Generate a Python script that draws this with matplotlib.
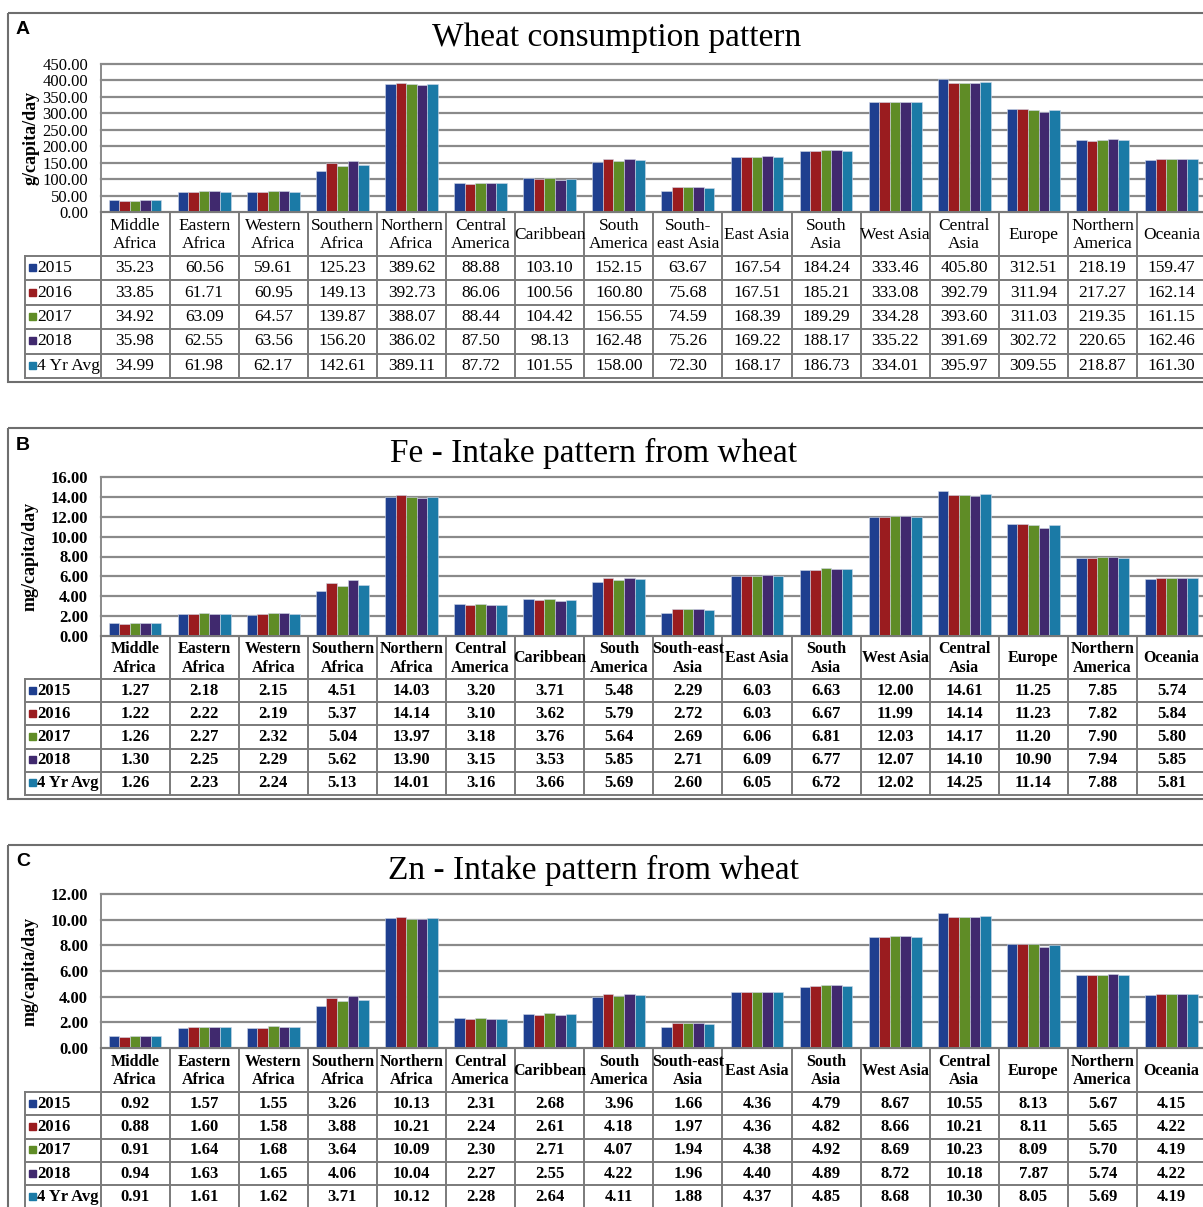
import numpy as np
import matplotlib
matplotlib.use("Agg")
from matplotlib import pyplot as plt
from matplotlib.patches import Rectangle

plt.rcParams['font.family'] = ['Liberation Serif', 'DejaVu Serif']

# regions, in table order
regions_a = ["Middle\nAfrica", "Eastern\nAfrica", "Western\nAfrica", "Southern\nAfrica",
             "Northern\nAfrica", "Central\nAmerica", "Caribbean", "South\nAmerica",
             "South-\neast Asia", "East Asia", "South\nAsia", "West Asia", "Central\nAsia",
             "Europe", "Northern\nAmerica", "Oceania"]
regions_bc = regions_a[:8] + ["South-east\nAsia"] + regions_a[9:]

series_names = ["2015", "2016", "2017", "2018", "4 Yr Avg"]
series_colors = ["#1f3f8f", "#9a1c1f", "#5f8c26", "#40296e", "#1b7aa6"]

# wheat consumption, g/capita/day
wheat_2015 = [35.23, 60.56, 59.61, 125.23, 389.62, 88.88, 103.10, 152.15, 63.67, 167.54, 184.24, 333.46, 405.80, 312.51, 218.19, 159.47]
wheat_2016 = [33.85, 61.71, 60.95, 149.13, 392.73, 86.06, 100.56, 160.80, 75.68, 167.51, 185.21, 333.08, 392.79, 311.94, 217.27, 162.14]
wheat_2017 = [34.92, 63.09, 64.57, 139.87, 388.07, 88.44, 104.42, 156.55, 74.59, 168.39, 189.29, 334.28, 393.60, 311.03, 219.35, 161.15]
wheat_2018 = [35.98, 62.55, 63.56, 156.20, 386.02, 87.50, 98.13, 162.48, 75.26, 169.22, 188.17, 335.22, 391.69, 302.72, 220.65, 162.46]
wheat_avg = [34.99, 61.98, 62.17, 142.61, 389.11, 87.72, 101.55, 158.00, 72.30, 168.17, 186.73, 334.01, 395.97, 309.55, 218.87, 161.30]

# Fe intake from wheat, mg/capita/day
fe_2015 = [1.27, 2.18, 2.15, 4.51, 14.03, 3.20, 3.71, 5.48, 2.29, 6.03, 6.63, 12.00, 14.61, 11.25, 7.85, 5.74]
fe_2016 = [1.22, 2.22, 2.19, 5.37, 14.14, 3.10, 3.62, 5.79, 2.72, 6.03, 6.67, 11.99, 14.14, 11.23, 7.82, 5.84]
fe_2017 = [1.26, 2.27, 2.32, 5.04, 13.97, 3.18, 3.76, 5.64, 2.69, 6.06, 6.81, 12.03, 14.17, 11.20, 7.90, 5.80]
fe_2018 = [1.30, 2.25, 2.29, 5.62, 13.90, 3.15, 3.53, 5.85, 2.71, 6.09, 6.77, 12.07, 14.10, 10.90, 7.94, 5.85]
fe_avg = [1.26, 2.23, 2.24, 5.13, 14.01, 3.16, 3.66, 5.69, 2.60, 6.05, 6.72, 12.02, 14.25, 11.14, 7.88, 5.81]

# Zn intake from wheat, mg/capita/day
zn_2015 = [0.92, 1.57, 1.55, 3.26, 10.13, 2.31, 2.68, 3.96, 1.66, 4.36, 4.79, 8.67, 10.55, 8.13, 5.67, 4.15]
zn_2016 = [0.88, 1.60, 1.58, 3.88, 10.21, 2.24, 2.61, 4.18, 1.97, 4.36, 4.82, 8.66, 10.21, 8.11, 5.65, 4.22]
zn_2017 = [0.91, 1.64, 1.68, 3.64, 10.09, 2.30, 2.71, 4.07, 1.94, 4.38, 4.92, 8.69, 10.23, 8.09, 5.70, 4.19]
zn_2018 = [0.94, 1.63, 1.65, 4.06, 10.04, 2.27, 2.55, 4.22, 1.96, 4.40, 4.89, 8.72, 10.18, 7.87, 5.74, 4.22]
zn_avg = [0.91, 1.61, 1.62, 3.71, 10.12, 2.28, 2.64, 4.11, 1.88, 4.37, 4.85, 8.68, 10.30, 8.05, 5.69, 4.19]

W, H = 1203, 1207
X0 = 100.5      # left edge of first region column (px)
CW = 69.1       # region column width (px)
LBL_X = 25      # left edge of the row-label column
GRID = "#8a8a8a"
LINE = "#7a7a7a"

fig = plt.figure(figsize=(W / 100, H / 100), dpi=100)
ov = fig.add_axes([0, 0, 1, 1])
ov.set_xlim(0, W)
ov.set_ylim(H, 0)
ov.axis("off")
ov.set_zorder(5)


def px_box(x0, y0, x1, y1):
    return [x0 / W, 1 - y1 / H, (x1 - x0) / W, (y1 - y0) / H]


def panel(letter, title, title_x, ylabel, labels, data, ymax, ystep,
          top, bottom, plot_top, plot_bot, head_bot, row_h, bold):
    weight = "bold" if bold else "normal"
    fs = 12 if bold else 12.5
    n = len(labels)
    x_end = X0 + n * CW

    # outer frame
    ov.add_patch(Rectangle((8, top), 1220, bottom - top, fill=False,
                           edgecolor="#6e6e6e", lw=1.5))
    ov.text(16, top + 17, letter, family="Liberation Sans", weight="bold",
            fontsize=14, ha="left", va="center")
    ov.text(title_x, top + 25, title, fontsize=24, ha="center", va="center")

    # bars
    ax = fig.add_axes(px_box(X0, plot_top, x_end, plot_bot))
    ax.set_xlim(-0.5, n - 0.5)
    ax.set_ylim(0, ymax)
    idx = np.arange(n)
    bw = 0.153
    for k, (vals, col) in enumerate(zip(data, series_colors)):
        ax.bar(idx + (k - 2) * bw, vals, width=bw, color=col,
               edgecolor="#d0d8e8", linewidth=0.4, zorder=3)
    ax.set_yticks(np.arange(0, ymax + ystep / 2, ystep))
    ax.yaxis.set_major_formatter(matplotlib.ticker.FormatStrFormatter("%.2f"))
    ax.yaxis.grid(True, color=GRID, lw=1.6, zorder=0)
    ax.set_xticks([])
    for s in ["top", "right", "bottom"]:
        ax.spines[s].set_visible(False)
    ax.spines["left"].set_color(GRID)
    ax.spines["left"].set_linewidth(1.4)
    ax.tick_params(axis="y", length=0, pad=9, labelsize=12)
    for t in ax.get_yticklabels():
        t.set_fontweight(weight)
    for gl in ax.get_ygridlines():
        gl.set_clip_on(False)
    ax.set_ylabel(ylabel, fontsize=13, fontweight="bold")
    ax.yaxis.set_label_coords(-(X0 - 39) / (x_end - X0), 0.5)

    # table
    tbl_bot = head_bot + 5 * row_h
    ov.plot([X0, x_end], [plot_bot, plot_bot], color=LINE, lw=1.4)
    for r in range(6):
        y = head_bot + r * row_h
        ov.plot([LBL_X, x_end], [y, y], color=LINE, lw=1.4)
    ov.plot([LBL_X, LBL_X], [head_bot, tbl_bot], color=LINE, lw=1.4)
    for c in range(n + 1):
        x = X0 + c * CW
        ov.plot([x, x], [plot_bot, tbl_bot], color=LINE, lw=1.4)
    for c, lab in enumerate(labels):
        cx = X0 + (c + 0.5) * CW
        ov.text(cx, (plot_bot + head_bot) / 2 + 1, lab, fontsize=fs - 0.5 if bold else fs,
                fontweight=weight, ha="center", va="center", linespacing=1.25)
    for r, (name, col, vals) in enumerate(zip(series_names, series_colors, data)):
        cy = head_bot + (r + 0.5) * row_h
        ov.add_patch(Rectangle((28.5, cy - 4), 7, 7, color=col))
        ov.text(37, cy, name, fontsize=fs, fontweight=weight,
                ha="left", va="center")
        for c, v in enumerate(vals):
            ov.text(X0 + (c + 0.5) * CW, cy, f"{v:.2f}", fontsize=fs,
                    fontweight=weight, ha="center", va="center")


panel("A", "Wheat consumption pattern", 617, "g/capita/day", regions_a,
      [wheat_2015, wheat_2016, wheat_2017, wheat_2018, wheat_avg], 450, 50,
      top=13, bottom=382, plot_top=64, plot_bot=212, head_bot=256, row_h=24.4,
      bold=False)
panel("B", "Fe - Intake pattern from wheat", 594, "mg/capita/day", regions_bc,
      [fe_2015, fe_2016, fe_2017, fe_2018, fe_avg], 16, 2,
      top=428, bottom=799, plot_top=477, plot_bot=636, head_bot=679, row_h=23.2,
      bold=True)
panel("C", "Zn - Intake pattern from wheat", 594, "mg/capita/day", regions_bc,
      [zn_2015, zn_2016, zn_2017, zn_2018, zn_avg], 12, 2,
      top=845, bottom=1230, plot_top=894, plot_bot=1048, head_bot=1092, row_h=23.3,
      bold=True)

fig.savefig("out.png", dpi=100)
